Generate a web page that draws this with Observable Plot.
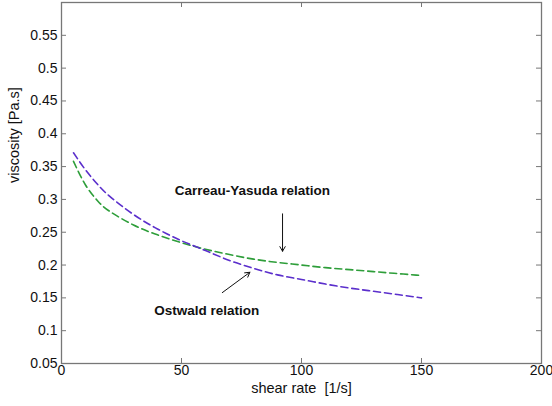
<!DOCTYPE html>
<html>
<head>
<meta charset="utf-8">
<script src="https://cdn.jsdelivr.net/npm/d3@7"></script>
<script src="https://cdn.jsdelivr.net/npm/@observablehq/plot@0.6"></script>
<style>
  html, body { margin: 0; padding: 0; background: #fff; }
  #chart svg { display: block; }
</style>
</head>
<body>
<div id="chart"></div>
<script>
const shearRate = [5, 10, 15, 20, 30, 40, 50, 60, 70, 80, 90, 100, 110, 120, 130, 140, 150];
const ostwald   = [0.371, 0.345, 0.323, 0.305, 0.277, 0.255, 0.237, 0.222, 0.207, 0.195, 0.185, 0.178, 0.171, 0.165, 0.160, 0.155, 0.150];
const carreau   = [0.358, 0.322, 0.298, 0.282, 0.261, 0.246, 0.234, 0.224, 0.216, 0.209, 0.204, 0.200, 0.196, 0.193, 0.190, 0.187, 0.184];

const xTicks = [0, 50, 100, 150, 200];
const yTicks = [0.05, 0.1, 0.15, 0.2, 0.25, 0.3, 0.35, 0.4, 0.45, 0.5, 0.55];

const annotations = [
  {text: "Carreau-Yasuda relation", x: 79.5, y: 0.313},
  {text: "Ostwald relation", x: 60.5, y: 0.130}
];
const arrows = [
  {x1: 92.1, y1: 0.278, x2: 92.1, y2: 0.221},
  {x1: 67.0, y1: 0.158, x2: 78.5, y2: 0.189}
];

const ostwaldData = shearRate.map((x, i) => ({x, y: ostwald[i]}));
const carreauData = shearRate.map((x, i) => ({x, y: carreau[i]}));

const W = 552, H = 406;
const mL = 61, mR = 11, mT = 2, mB = 43;
const innerW = W - mL - mR, innerH = H - mT - mB;
const font = "Liberation Sans, Arial, Helvetica, sans-serif";

const chart = Plot.plot({
  width: W,
  height: H,
  marginLeft: mL,
  marginRight: mR,
  marginTop: mT,
  marginBottom: mB,
  style: {fontFamily: font, fontSize: "14px", color: "#111", background: "#fff"},
  x: {domain: [0, 200]},
  y: {domain: [0.05, 0.6]},
  marks: [
    Plot.axisX({ticks: xTicks, tickSize: 0, tickPadding: 2, label: null, fontSize: 14, tickFormat: d => String(d)}),
    Plot.axisY({ticks: yTicks, tickSize: 0, tickPadding: 4, label: null, fontSize: 14, tickFormat: d => String(+d.toFixed(2))}),
    // inward tick marks on all four sides
    Plot.tickX(xTicks, {x: d => d, insetTop: innerH - 5, stroke: "#777"}),
    Plot.tickX(xTicks, {x: d => d, insetBottom: innerH - 5, stroke: "#777"}),
    Plot.tickY(yTicks, {y: d => d, insetRight: innerW - 5, stroke: "#777"}),
    Plot.tickY(yTicks, {y: d => d, insetLeft: innerW - 5, stroke: "#777"}),
    Plot.frame({stroke: "#777", strokeWidth: 1.3}),
    Plot.line(carreauData, {x: "x", y: "y", stroke: "#2e9e3a", strokeWidth: 1.6, strokeDasharray: "7,4", curve: "natural"}),
    Plot.line(ostwaldData, {x: "x", y: "y", stroke: "#5b2fcc", strokeWidth: 1.6, strokeDasharray: "7,4", curve: "natural"}),
    Plot.arrow(arrows, {x1: "x1", y1: "y1", x2: "x2", y2: "y2", stroke: "#111", strokeWidth: 1, headLength: 8}),
    Plot.text(annotations, {x: "x", y: "y", text: "text", fontWeight: "bold", fontSize: 13.5, fill: "#111", textAnchor: "middle"}),
    Plot.text(["shear rate  [1/s]"], {frameAnchor: "bottom", dy: 29, fontSize: 14.5, fill: "#111"}),
    Plot.text(["viscosity [Pa.s]"], {frameAnchor: "left", dx: -47, dy: 0, rotate: -90, fontSize: 14.5, fill: "#111"})
  ]
});

document.getElementById("chart").appendChild(chart);
</script>
</body>
</html>
